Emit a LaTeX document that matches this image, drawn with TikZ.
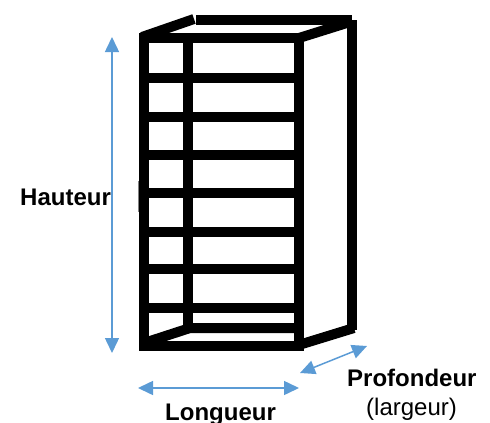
\documentclass[tikz,border=0pt]{standalone}
\usepackage{fontspec}
\setmainfont{Liberation Sans}
\usetikzlibrary{arrows.meta}
\definecolor{dimblue}{HTML}{5B9BD5}
\tikzset{
  bar/.style={line width=10pt, line cap=butt, line join=miter, black},
  dimline/.style={dimblue, line width=1.5pt,
    {Triangle[length=15pt,width=14pt]}-{Triangle[length=15pt,width=14pt]}},
  lbl/.style={inner sep=0pt, anchor=base west, font=\fontsize{24}{28}\selectfont\bfseries},
  lblreg/.style={inner sep=0pt, anchor=base west, font=\fontsize{24}{28}\selectfont},
}
\begin{document}
\begin{tikzpicture}[x=1pt, y=-1pt]
  \useasboundingbox (0,0) rectangle (490,423);
  \clip (0,0) rectangle (490,423);
  % back frame
  \draw[bar] (142,37) -- (194,19);
  \draw[bar] (196,20) -- (352,20);
  \draw[bar] (352,20) -- (352,330);
  \draw[bar] (299,38) -- (350,22);
  \draw[bar] (144,343) -- (190,328) -- (299,328);
  \draw[bar] (302,344) -- (354,328);
  % front frame
  \draw[bar] (144,38) rectangle (299,345.5);
  \draw[bar] (187.5,38) -- (187.5,328);
  \foreach \y in {78,117,154.5,193,232,269,308}
    \draw[bar] (144,\y) -- (299,\y);
  % small grey mark
  \draw[gray, line width=1.5pt] (138.5,181) -- (138.5,212);
  % dimension arrows
  \coordinate (hT) at (112,37);
  \coordinate (hB) at (112,353);
  \coordinate (lL) at (138,388);
  \coordinate (lR) at (299,388);
  \coordinate (pA) at (300,373);
  \coordinate (pB) at (367,346);
  \draw[dimline] (hT) -- (hB);
  \draw[dimline] (lL) -- (lR);
  \draw[dimline] (pA) -- (pB);
  % labels
  \node[lbl] (haut) at (20,205) {Hauteur};
  \node[lbl] (long) at (165,420) {Longueur};
  \node[lbl] (prof) at (347,386) {Profondeur};
  \node[lblreg] (larg) at (366,415) {(largeur)};
\end{tikzpicture}
\end{document}
